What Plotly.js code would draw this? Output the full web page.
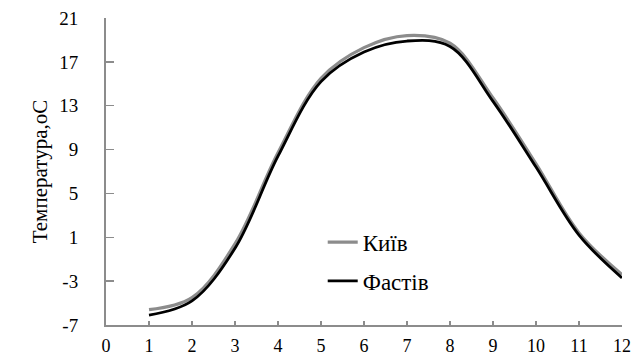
<!DOCTYPE html>
<html>
<head>
<meta charset="utf-8">
<script src="https://cdn.plot.ly/plotly-3.0.1.min.js"></script>
<style>html,body{margin:0;padding:0;background:#fff;}#chart{width:635px;height:356px;}</style>
</head>
<body>
<div id="chart"></div>
<script>
const months = [1, 2, 3, 4, 5, 6, 7, 8, 9, 10, 11, 12];
const kyiv = [-5.6, -4.5, 0.4, 8.7, 15.5, 18.3, 19.4, 18.7, 13.7, 7.7, 1.4, -2.4];
const fastiv = [-6.1, -4.8, 0.0, 8.4, 15.2, 17.9, 18.9, 18.4, 13.4, 7.4, 1.2, -2.7];
const seriesNames = ['Київ', 'Фастів'];
const yTicks = [-7, -3, 1, 5, 9, 13, 17, 21];
const xTicks = [0, 1, 2, 3, 4, 5, 6, 7, 8, 9, 10, 11, 12];

const serif = 'Liberation Serif';
const traces = [
  {x: months, y: kyiv, name: seriesNames[0], mode: 'lines', legendgroup: 'a',
   line: {color: '#8c8c8c', width: 3.2, shape: 'spline', smoothing: 1}},
  {x: months, y: fastiv, name: seriesNames[1], mode: 'lines', legendgroup: 'b',
   line: {color: '#000000', width: 2.8, shape: 'spline', smoothing: 1}}
];
const layout = {
  width: 635, height: 356,
  margin: {l: 106, r: 13, t: 18, b: 31},
  paper_bgcolor: '#fff', plot_bgcolor: '#fff',
  font: {family: serif, color: '#000', size: 18},
  showlegend: true,
  legend: {x: 0.42, y: 0.34, xanchor: 'left', yanchor: 'top', bgcolor: 'rgba(0,0,0,0)',
           font: {family: serif, size: 23, color: '#000'}, tracegroupgap: 6, traceorder: 'grouped',
           itemwidth: 30},
  xaxis: {range: [0, 12], tickvals: xTicks, ticktext: xTicks.map(String), showgrid: false, zeroline: false,
          showline: true, linecolor: '#8c8c8c', linewidth: 2, ticks: 'inside', ticklen: 4, tickcolor: '#8c8c8c',
          tickwidth: 1.5, ticklabelstandoff: 3, tickfont: {family: serif, size: 18, color: '#000'}},
  yaxis: {range: [-7, 21], tickvals: yTicks, ticktext: yTicks.map(String), showgrid: false, zeroline: false,
          showline: true, linecolor: '#8c8c8c', linewidth: 2, ticks: 'inside', ticklen: 8, tickcolor: '#8c8c8c',
          tickwidth: 1.5, ticklabelstandoff: 22, tickfont: {family: serif, size: 19, color: '#000'},
          title: {text: 'Температура,оС', standoff: 6, font: {family: serif, size: 21, color: '#000'}}}
};
Plotly.newPlot('chart', traces, layout, {staticPlot: true, displayModeBar: false});
</script>
</body>
</html>
